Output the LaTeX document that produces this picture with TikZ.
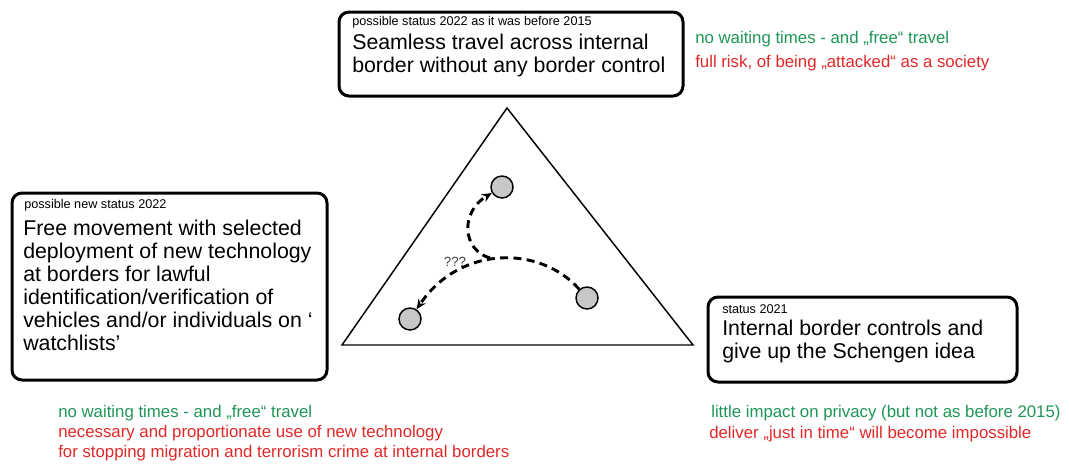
\documentclass[tikz,border=0pt]{standalone}
\usepackage{fontspec}
\setmainfont{Liberation Sans}
\usetikzlibrary{arrows.meta}
\definecolor{goodgreen}{RGB}{30,150,85}
\definecolor{badred}{RGB}{225,40,40}
\begin{document}
\begin{tikzpicture}[x=0.75pt,y=-0.75pt,
  box/.style={draw,line width=2.25pt,rounded corners=7.5pt,inner sep=0pt},
  small/.style={inner sep=0pt,anchor=base west,font=\fontsize{9.5}{11}\selectfont},
  big/.style={inner sep=0pt,anchor=base west,align=left,font=\fontsize{16}{17.25}\selectfont},
  note/.style={inner sep=0pt,anchor=base west,align=left,font=\fontsize{12.6}{15}\selectfont},
  dot/.style={circle,draw,line width=1.1pt,fill=black!22,minimum size=16.5pt,inner sep=0pt},
  flow/.style={line width=2.2pt,dash pattern=on 6pt off 4pt,-{Stealth[length=7.5pt,width=6.5pt]}}]
\useasboundingbox (0,0) rectangle (1069,464);
% boxes
\node[box,minimum width=258pt,minimum height=63pt] (top) at (511,54) {};
\node[box,minimum width=236.25pt,minimum height=140.25pt] (left) at (169.5,286.5) {};
\node[box,minimum width=231.75pt,minimum height=63.75pt] (right) at (862.5,339.5) {};
% box texts (multi-line nodes: base = baseline of last line)
\node[small] (topS) at (352,26) {possible status 2022 as it was before 2015};
\node[big] (topT) at (352,72) {Seamless travel across internal\\border without any border control};
\node[small] (leftS) at (24,208) {possible new status 2022};
\node[big] (leftT) at (23,350) {Free movement with selected\\deployment of new technology\\at borders for lawful\\identification/verification of\\vehicles and/or individuals on ‘\\watchlists’};
\node[small] (rightS) at (722,313) {status 2021};
\node[big] (rightT) at (722,358) {Internal border controls and\\give up the Schengen idea};
% notes
\node[note,text=goodgreen] (n1) at (695,43) {no waiting times - and „free“ travel};
\node[note,text=badred] (n2) at (695,67) {full risk, of being „attacked“ as a society};
\node[note,text=goodgreen] (n3) at (58,417) {no waiting times - and „free“ travel};
\node[note,text=badred] (n4) at (58,457) {necessary and proportionate use of new technology\\for stopping migration and terrorism crime at internal borders};
\node[note,text=goodgreen] (n5) at (711,417) {little impact on privacy (but not as before 2015)};
\node[note,text=badred] (n6) at (709,438) {deliver „just in time“ will become impossible};
% triangle
\coordinate (tA) at (507,108);
\coordinate (tB) at (342,345);
\coordinate (tC) at (693,345);
\draw[line width=1.1pt,line join=miter] (tA) -- (tB) -- (tC) -- cycle;
% dots
\node[dot] (c1) at (502,187) {};
\node[dot] (c2) at (410,319) {};
\node[dot] (c3) at (587,298) {};
\coordinate (j) at (490,258);
\draw[flow] (c3) .. controls (540,245) and (460,245) .. (c2);
\draw[flow] (j) .. controls (462,250) and (460,212) .. (c1);
\node[inner sep=0pt,text=black!75,font=\fontsize{10}{12}\selectfont] (q) at (455,262) {???};
\end{tikzpicture}
\end{document}
